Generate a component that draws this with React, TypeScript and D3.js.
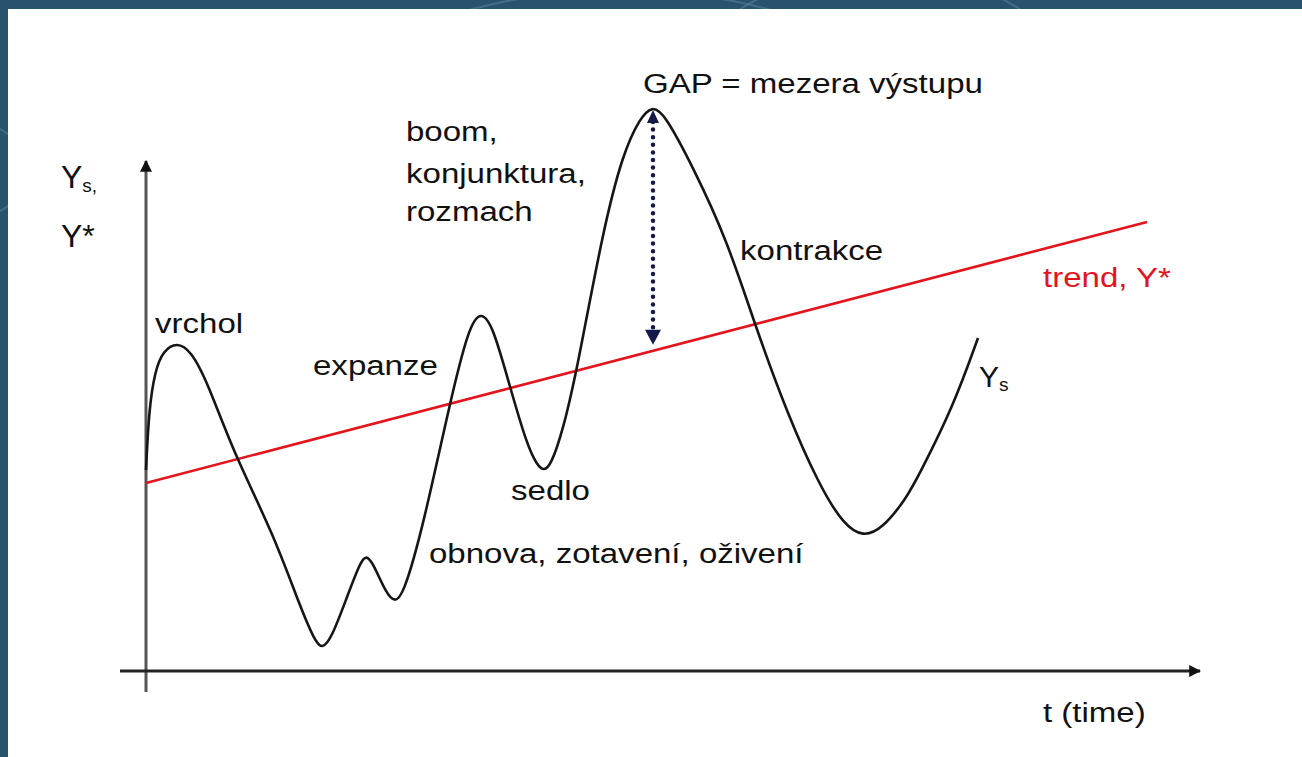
import React from "react";
import * as d3 from "d3";

// cyklus: skutečný produkt Ys kolem trendu Y* (t = čas, y = úroveň produktu)
const cycleT = [0, 3, 9, 17, 31, 45, 61, 89, 127, 155, 168, 176, 186, 201, 214, 220, 227, 240, 249, 258, 277, 304, 323, 335, 347, 364, 381, 391, 398, 405, 417, 431, 457, 477, 494, 506, 518, 547, 581, 609, 641, 674, 698, 717, 736, 760, 774, 807, 832];
const cycleY = [201, 262, 300, 320, 329, 320, 290, 215, 138, 62, 32, 21, 34, 74, 108, 116, 108, 78, 68, 78, 144, 269, 345, 360, 345, 284, 226, 206, 200, 206, 241, 301, 441, 518, 553, 565, 558, 504, 431, 346, 258, 184, 146, 134, 142, 172, 198, 264, 333];

const trendT = [0, 1001];
const trendY = [188, 449];

const gapT = 507; // kde se měří mezera výstupu

// popisky (t, y v jednotkách grafu)
const labelText = ["vrchol", "expanze", "boom,", "konjunktura,", "rozmach", "GAP = mezera výstupu", "kontrakce", "sedlo", "obnova, zotavení, oživení", "t (time)"];
const labelT = [9, 167, 260, 260, 260, 497, 594, 365, 283, 897];
const labelY = [338, 296, 530, 488, 450, 578, 411, 171, 108, -51];

const W = 1302;
const H = 757;

export default function App() {
  const x = d3.scaleLinear().domain([0, 1054]).range([146, 1200]);
  const y = d3.scaleLinear().domain([0, 560]).range([671, 111]);

  const cycle = cycleT.map((t, i) => [t, cycleY[i]] as [number, number]);
  const trend = trendT.map((t, i) => [t, trendY[i]] as [number, number]);

  const line = d3
    .line<[number, number]>()
    .x((d) => x(d[0]))
    .y((d) => y(d[1]))
    .curve(d3.curveBasis);

  const straight = d3
    .line<[number, number]>()
    .x((d) => x(d[0]))
    .y((d) => y(d[1]));

  const trendAt = d3.scaleLinear().domain(trendT).range(trendY);
  const peak = 563;
  const gapTop = y(peak) + 2;
  const gapBottom = y(trendAt(gapT)) - 6;

  const font = "'Liberation Sans', Arial, sans-serif";

  return (
    <div style={{ position: "absolute", left: 0, top: 0 }}>
      <svg width={W} height={H} style={{ display: "block" }}>
        <defs>
          <marker id="axisArrow" viewBox="0 0 10 10" refX="9" refY="5" markerWidth="4" markerHeight="4" orient="auto">
            <path d="M0,0 L10,5 L0,10 z" fill="#111" />
          </marker>
        </defs>

        {/* pozadí snímku */}
        <rect width={W} height={H} fill="#27536c" />
        <g fill="none" stroke="#5d88a3" strokeOpacity={0.5} strokeWidth={2}>
          <ellipse cx={880} cy={160} rx={230} ry={190} />
          <ellipse cx={620} cy={260} rx={400} ry={270} />
          <ellipse cx={-80} cy={170} rx={110} ry={60} />
        </g>
        <rect x={8} y={9} width={W - 8} height={H - 9} fill="#ffffff" />

        {/* osy */}
        <line x1={x(0)} x2={x(0)} y1={692} y2={y(0) - 510} stroke="#555" strokeWidth={3} markerEnd="url(#axisArrow)" />
        <line x1={120} x2={x(1054)} y1={y(0)} y2={y(0)} stroke="#222" strokeWidth={3} markerEnd="url(#axisArrow)" />

        {/* trend */}
        <path d={straight(trend) ?? ""} fill="none" stroke="#e3141c" strokeWidth={2.5} />

        {/* Ys */}
        <path d={line(cycle) ?? ""} fill="none" stroke="#161616" strokeWidth={2.6} />

        {/* mezera výstupu */}
        <line
          x1={x(gapT)}
          x2={x(gapT)}
          y1={gapTop + 12}
          y2={gapBottom - 12}
          stroke="#141a4a"
          strokeWidth={4.5}
          strokeLinecap="round"
          strokeDasharray="0 7.6"
        />
        <path d={`M${x(gapT)},${gapTop} l-6,13 l12,0 z`} fill="#141a4a" />
        <path d={`M${x(gapT)},${gapBottom} l-8,-15 l16,0 z`} fill="#141a4a" />

        {/* popisky */}
        <g fontFamily={font} fontSize={28} fill="#111">
          {labelText.map((s, i) => (
            <text key={i} transform={`translate(${x(labelT[i])},${y(labelY[i])}) scale(1.18,1)`}>
              {s}
            </text>
          ))}
          <text transform={`translate(${x(897)},${y(384)}) scale(1.18,1)`} fill="#e3141c">
            trend, Y*
          </text>
        </g>
        <g fontFamily={font} fill="#111">
          <text x={61} y={188} fontSize={32}>
            Y<tspan fontSize={19} dy={4}>s,</tspan>
          </text>
          <text x={61} y={247} fontSize={32}>Y*</text>
          <text x={979} y={387} fontSize={30}>
            Y<tspan fontSize={19} dy={4}>s</tspan>
          </text>
        </g>
      </svg>
    </div>
  );
}
